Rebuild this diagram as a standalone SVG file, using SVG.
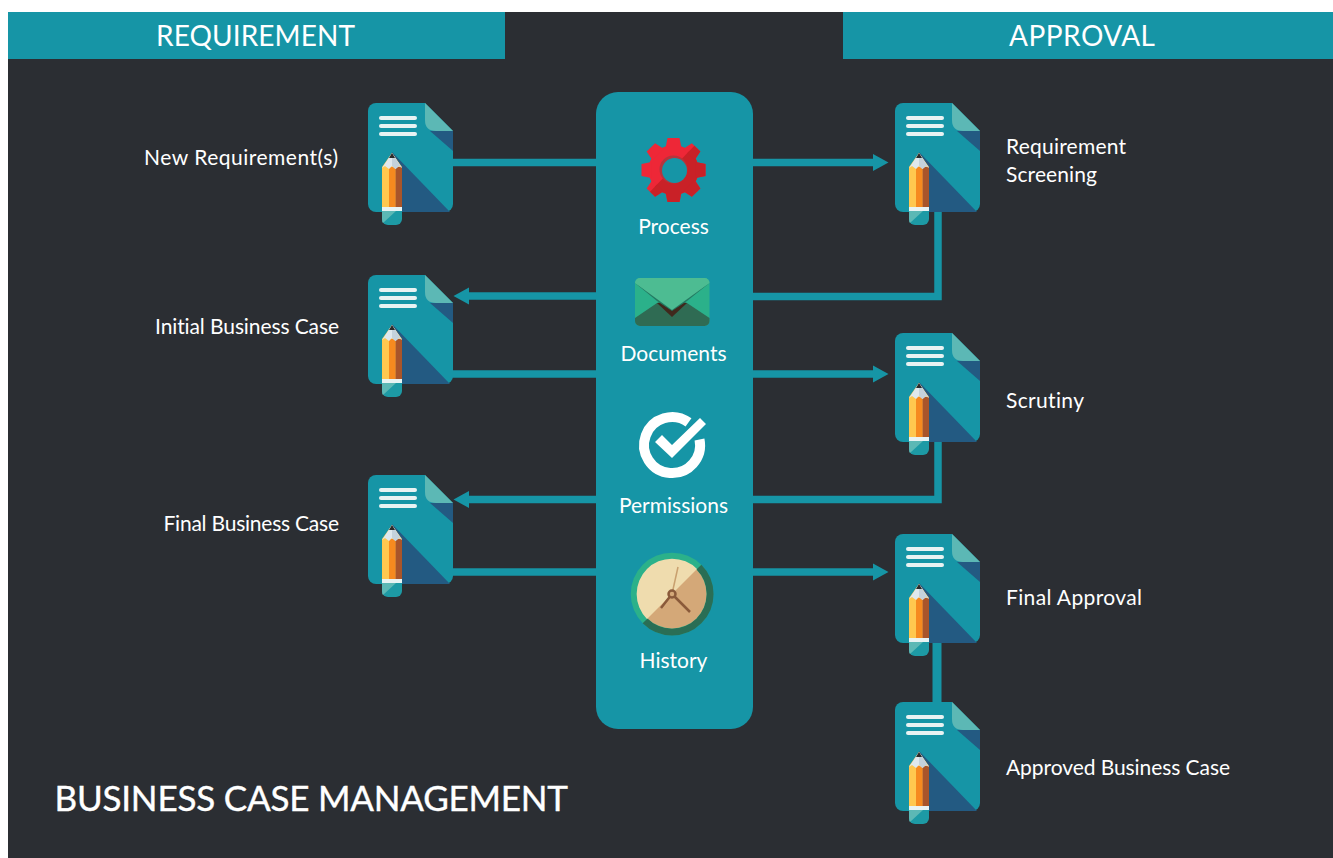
<svg xmlns="http://www.w3.org/2000/svg" width="1333" height="858" viewBox="0 0 1333 858">
<style>
text{font-family:"Lato","Open Sans","Liberation Sans",sans-serif;fill:#fff;font-variant-ligatures:none}
.h{font-size:28px}
.l{font-size:21px}
.c{font-size:21px;text-anchor:middle}
.conn{fill:none;stroke:#1695a6;stroke-width:7.500}
.t{fill:#1695a6}
</style>
<defs>
<marker id="a" markerUnits="userSpaceOnUse" markerWidth="17" markerHeight="18" refX="1" refY="9" orient="auto"><path d="M0 0.500L15.500 9L0 17.500z" fill="#1695a6"/></marker>
<clipPath id="gearDark"><path d="M698 142L644 198L680 215L715 200V150z"/></clipPath>
<g id="gearShape">
<circle cx="0" cy="0" r="25"/>
<g id="teeth"><path id="tooth" d="M-6 -32H6L8 -22H-8z"/>
<use href="#tooth" transform="rotate(45)"/><use href="#tooth" transform="rotate(90)"/><use href="#tooth" transform="rotate(135)"/><use href="#tooth" transform="rotate(180)"/><use href="#tooth" transform="rotate(225)"/><use href="#tooth" transform="rotate(270)"/><use href="#tooth" transform="rotate(315)"/></g>
</g>
<symbol id="doc" width="90" height="125" viewBox="0 0 90 125" overflow="visible">
<path d="M8 0H57L85 28V101a8 8 0 0 1-8 8H8a8 8 0 0 1-8-8V8a8 8 0 0 1 8-8z" fill="#1695a6"/>
<path d="M24 49L82 109H30z" fill="#235a82"/>
<path d="M62 28H85V48z" fill="#235a82"/>
<path d="M57 0L85 28H68Q57 28 57 17z" fill="#5cb8b5"/>
<g fill="#e8f3f3"><rect x="11" y="13" width="38" height="4" rx="2"/><rect x="11" y="21" width="38" height="4" rx="2"/><rect x="11" y="29" width="38" height="4" rx="2"/></g>
<path d="M14 64L24 50L34 64V108H14z" fill="#ffc84f"/>
<rect x="21" y="64" width="6.500" height="44" fill="#f68a1f"/>
<rect x="27.500" y="64" width="6.500" height="44" fill="#a9552a"/>
<path d="M14 65L24 50L34 65L31 63L27.500 66L24 63L21 66L17 63z" fill="#dfe8ee"/>
<path d="M24 50L34 65L31 63L27.500 66L24 63z" fill="#c4d2dc"/>
<path d="M21 55L24 50L27 55z" fill="#2a2a2a"/>
<rect x="14" y="104" width="20" height="4" fill="#e8f3f3"/>
<path d="M14 108H34V116a6 6 0 0 1-6 6H20a6 6 0 0 1-6-6z" fill="#1d9aa5"/>
<path d="M14 108H28L15 120Q14 119 14 116z" fill="#5cb8b5"/>
</symbol>
</defs>
<rect x="8" y="12" width="1325" height="846" fill="#2b2e33"/>
<g id="header-requirement"><rect x="8" y="12" width="497" height="47" class="t"/><text class="h" x="156" y="45.500" textLength="199">REQUIREMENT</text></g>
<g id="header-approval"><rect x="843" y="12" width="490" height="47" class="t"/><text class="h" x="1009" y="45.500" textLength="146">APPROVAL</text></g>
<g id="connectors">
<path class="conn" d="M453 162.500H600"/>
<path class="conn" d="M750 162.500H874" marker-end="url(#a)"/>
<path class="conn" d="M938 210V296.500H750"/>
<path class="conn" d="M600 296H468" marker-end="url(#a)"/>
<path class="conn" d="M450 374H600"/>
<path class="conn" d="M750 374H874" marker-end="url(#a)"/>
<path class="conn" d="M938 440V499.500H750"/>
<path class="conn" d="M600 499.500H468" marker-end="url(#a)"/>
<path class="conn" d="M450 572H600"/>
<path class="conn" d="M750 572H874" marker-end="url(#a)"/>
<path class="conn" style="stroke-width:9" d="M937 640V704"/>
</g>
<g id="hub">
<rect x="596" y="92" width="157" height="637" rx="22" class="t"/>
<g id="process">
<use href="#gearShape" transform="translate(673.500 170)" fill="#ee2737"/>
<g clip-path="url(#gearDark)"><use href="#gearShape" transform="translate(673.500 170)" fill="#c92127"/></g>
<circle cx="673.500" cy="169.500" r="14" fill="#b5353d"/><circle cx="674.500" cy="170.500" r="12.500" fill="#1695a6"/>
<text class="c" x="673.500" y="234">Process</text>
</g>
<g id="documents">
<rect x="635" y="278" width="74.500" height="48" rx="5" fill="#2bb18a"/>
<path d="M635 318L657 303H687L709.500 318V321a5 5 0 0 1-5 5H640a5 5 0 0 1-5-5z" fill="#2f6b53"/>
<path d="M657 303L672 317L687 303L672 300z" fill="#40281c"/>
<path d="M635 283L657 301L672 311L687 301L709.500 283L672 305z" fill="#237a62"/>
<path d="M635 283a5 5 0 0 1 5-5H704.500a5 5 0 0 1 5 5L672 310z" fill="#4dbc92"/>
<text class="c" x="673.500" y="361">Documents</text>
</g>
<g id="permissions">
<path d="M688.500 422.400A28 28 0 1 0 699.500 439.500" fill="none" stroke="#fff" stroke-width="10"/>
<path d="M655 442L662 435L672 445L700 418L706 424L672 458z" fill="#fff"/>
<text class="c" x="673.500" y="513">Permissions</text>
</g>
<g id="history">
<circle cx="672" cy="594" r="41.300" fill="#2bb18a"/>
<path d="M698.900 567.100A38 38 0 0 1 645.100 620.900" fill="none" stroke="#2a6e55" stroke-width="7"/>
<circle cx="672" cy="594" r="34.500" fill="#d4a878"/>
<path d="M697 569L647 619A35 35 0 0 1 697 569z" fill="#efdcae"/>
<path d="M678 567L672 594" stroke="#c9a06e" stroke-width="1.500"/>
<path d="M672 594L661 608M672 594L690 612" stroke="#8a5a3a" stroke-width="2.500"/>
<circle cx="672" cy="594" r="3.500" fill="#d4a878" stroke="#8a5a3a" stroke-width="2.500"/>
<text class="c" x="673.500" y="668">History</text>
</g>
</g>
<g id="new-requirement"><use href="#doc" x="368" y="103"/><text class="l" x="144" y="165" textLength="194">New Requirement(s)</text></g>
<g id="initial-business-case"><use href="#doc" x="368" y="275"/><text class="l" x="155" y="334" textLength="184">Initial Business Case</text></g>
<g id="final-business-case"><use href="#doc" x="368" y="475"/><text class="l" x="163.500" y="531" textLength="175.500">Final Business Case</text></g>
<g id="requirement-screening"><use href="#doc" x="895" y="103"/><text class="l" x="1006" y="154" textLength="120">Requirement</text><text class="l" x="1006" y="182" textLength="91">Screening</text></g>
<g id="scrutiny"><use href="#doc" x="895" y="333"/><text class="l" x="1006" y="408" textLength="78">Scrutiny</text></g>
<g id="final-approval"><use href="#doc" x="895" y="534"/><text class="l" x="1006" y="605" textLength="136">Final Approval</text></g>
<g id="approved-business-case"><use href="#doc" x="895" y="702"/><text class="l" x="1006" y="775" textLength="224">Approved Business Case</text></g>
<text id="title" x="54.500" y="811" font-size="35" textLength="513.500" stroke="#fff" stroke-width="0.400">BUSINESS CASE MANAGEMENT</text>
</svg>
